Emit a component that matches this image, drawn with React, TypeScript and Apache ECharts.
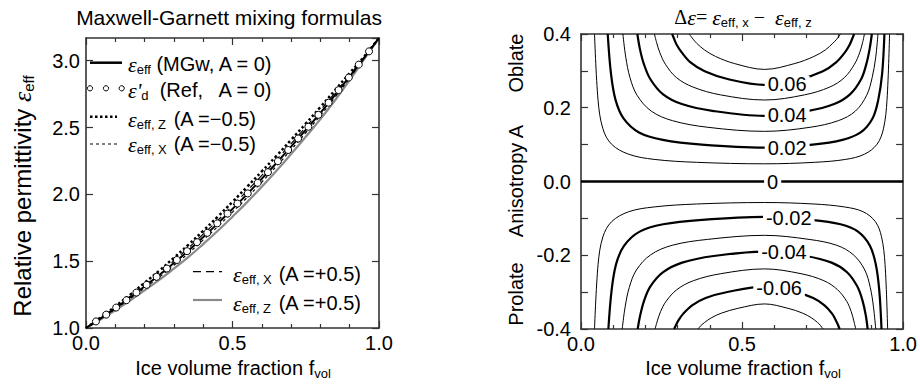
import React, { useEffect, useRef } from "react";
import * as echarts from "echarts";

// ---------- Left panel data (ice volume fraction vs relative permittivity) ----------
const F = [0, 0.05, 0.1, 0.15, 0.2, 0.25, 0.3, 0.35, 0.4, 0.45, 0.5, 0.55, 0.6, 0.65, 0.7, 0.75, 0.8, 0.85, 0.9, 0.95, 1.0];
const EPS_MGW = [1.0, 1.072, 1.148, 1.228, 1.311, 1.396, 1.486, 1.58, 1.68, 1.783, 1.891, 2.002, 2.117, 2.235, 2.357, 2.482, 2.61, 2.744, 2.882, 3.024, 3.17];
const EPS_Z_NEG = [1.0, 1.079, 1.162, 1.248, 1.338, 1.429, 1.525, 1.624, 1.727, 1.834, 1.944, 2.057, 2.172, 2.288, 2.408, 2.529, 2.653, 2.78, 2.907, 3.033, 3.17];
const EPS_X_NEG = [1.0, 1.069, 1.142, 1.219, 1.299, 1.381, 1.469, 1.56, 1.659, 1.76, 1.867, 1.977, 2.092, 2.211, 2.334, 2.461, 2.591, 2.728, 2.871, 3.02, 3.17];
const EPS_X_POS = [1.0, 1.075, 1.155, 1.237, 1.323, 1.411, 1.504, 1.6, 1.702, 1.806, 1.915, 2.027, 2.142, 2.259, 2.38, 2.503, 2.63, 2.761, 2.893, 3.028, 3.17];
const EPS_Z_POS = [1.0, 1.064, 1.132, 1.206, 1.282, 1.36, 1.444, 1.532, 1.628, 1.728, 1.833, 1.942, 2.057, 2.177, 2.302, 2.431, 2.563, 2.704, 2.855, 3.014, 3.17];
const REF_F = [0.034, 0.069, 0.103, 0.138, 0.172, 0.207, 0.241, 0.276, 0.31, 0.345, 0.379, 0.414, 0.448, 0.483, 0.517, 0.552, 0.586, 0.621, 0.655, 0.69, 0.724, 0.759, 0.793, 0.828, 0.862, 0.897, 0.931, 0.966];
const REF_EPS = [1.049, 1.1, 1.153, 1.208, 1.265, 1.323, 1.383, 1.445, 1.509, 1.575, 1.642, 1.712, 1.783, 1.856, 1.931, 2.007, 2.086, 2.166, 2.248, 2.332, 2.418, 2.506, 2.595, 2.686, 2.78, 2.874, 2.971, 3.07];

// ---------- Right panel data: contour lines [f_vol, A] ----------
const C_P01 = [[0.042, 0.4], [0.053, 0.22], [0.068, 0.143], [0.095, 0.101], [0.148, 0.074], [0.227, 0.06], [0.359, 0.052], [0.57, 0.048], [0.725, 0.052], [0.822, 0.06], [0.88, 0.074], [0.919, 0.101], [0.939, 0.143], [0.95, 0.22], [0.958, 0.4]];
const C_P02 = [[0.083, 0.4], [0.093, 0.293], [0.107, 0.222], [0.132, 0.171], [0.18, 0.133], [0.254, 0.113], [0.375, 0.1], [0.57, 0.092], [0.719, 0.1], [0.812, 0.113], [0.868, 0.133], [0.905, 0.171], [0.923, 0.222], [0.935, 0.293], [0.942, 0.4]];
const C_P03 = [[0.13, 0.4], [0.139, 0.337], [0.152, 0.282], [0.174, 0.234], [0.218, 0.191], [0.284, 0.165], [0.394, 0.147], [0.57, 0.136], [0.711, 0.147], [0.799, 0.165], [0.852, 0.191], [0.887, 0.234], [0.904, 0.282], [0.915, 0.337], [0.922, 0.4]];
const C_P04 = [[0.175, 0.4], [0.183, 0.359], [0.195, 0.319], [0.215, 0.278], [0.254, 0.237], [0.313, 0.21], [0.412, 0.191], [0.57, 0.178], [0.703, 0.191], [0.786, 0.21], [0.836, 0.237], [0.87, 0.278], [0.886, 0.319], [0.896, 0.359], [0.903, 0.4]];
const C_P05 = [[0.228, 0.4], [0.235, 0.376], [0.245, 0.349], [0.262, 0.318], [0.296, 0.282], [0.348, 0.256], [0.433, 0.235], [0.57, 0.221], [0.694, 0.235], [0.772, 0.256], [0.818, 0.282], [0.849, 0.318], [0.865, 0.349], [0.874, 0.376], [0.88, 0.4]];
const C_P06 = [[0.283, 0.4], [0.289, 0.387], [0.297, 0.371], [0.312, 0.351], [0.34, 0.323], [0.384, 0.299], [0.455, 0.278], [0.57, 0.262], [0.681, 0.278], [0.751, 0.299], [0.792, 0.323], [0.82, 0.351], [0.834, 0.371], [0.842, 0.387], [0.848, 0.4]];
const C_P07 = [[0.336, 0.4], [0.341, 0.394], [0.348, 0.386], [0.359, 0.375], [0.383, 0.357], [0.418, 0.339], [0.476, 0.32], [0.57, 0.304], [0.664, 0.32], [0.723, 0.339], [0.759, 0.357], [0.782, 0.375], [0.794, 0.386], [0.801, 0.394], [0.806, 0.4]];
const C_N01 = [[0.042, -0.4], [0.053, -0.225], [0.068, -0.15], [0.095, -0.109], [0.148, -0.082], [0.227, -0.069], [0.359, -0.061], [0.57, -0.057], [0.723, -0.061], [0.818, -0.069], [0.876, -0.082], [0.914, -0.109], [0.933, -0.15], [0.944, -0.225], [0.952, -0.4]];
const C_N02 = [[0.085, -0.4], [0.095, -0.295], [0.109, -0.224], [0.134, -0.174], [0.182, -0.136], [0.255, -0.116], [0.376, -0.104], [0.57, -0.096], [0.715, -0.104], [0.806, -0.116], [0.86, -0.136], [0.897, -0.174], [0.915, -0.224], [0.926, -0.295], [0.933, -0.4]];
const C_N03 = [[0.128, -0.4], [0.137, -0.34], [0.15, -0.287], [0.172, -0.24], [0.216, -0.199], [0.283, -0.173], [0.393, -0.157], [0.57, -0.146], [0.708, -0.157], [0.794, -0.173], [0.846, -0.199], [0.881, -0.24], [0.898, -0.287], [0.908, -0.34], [0.915, -0.4]];
const C_N04 = [[0.176, -0.4], [0.184, -0.362], [0.196, -0.323], [0.215, -0.285], [0.255, -0.246], [0.314, -0.22], [0.412, -0.202], [0.57, -0.19], [0.698, -0.202], [0.778, -0.22], [0.826, -0.246], [0.858, -0.285], [0.874, -0.323], [0.884, -0.362], [0.89, -0.4]];
const C_N05 = [[0.23, -0.4], [0.237, -0.378], [0.247, -0.353], [0.264, -0.325], [0.298, -0.293], [0.349, -0.269], [0.434, -0.25], [0.57, -0.237], [0.683, -0.25], [0.754, -0.269], [0.796, -0.293], [0.825, -0.325], [0.839, -0.353], [0.847, -0.378], [0.853, -0.4]];
const C_N06 = [[0.289, -0.4], [0.295, -0.389], [0.303, -0.376], [0.317, -0.359], [0.345, -0.336], [0.387, -0.316], [0.458, -0.299], [0.57, -0.285], [0.663, -0.299], [0.721, -0.316], [0.756, -0.336], [0.78, -0.359], [0.791, -0.376], [0.798, -0.389], [0.803, -0.4]];
const C_N07 = [[0.363, -0.4], [0.367, -0.396], [0.373, -0.39], [0.384, -0.382], [0.404, -0.37], [0.436, -0.357], [0.487, -0.344], [0.57, -0.332], [0.643, -0.344], [0.688, -0.357], [0.716, -0.37], [0.734, -0.382], [0.743, -0.39], [0.748, -0.396], [0.752, -0.4]];
const C_ZERO = [[0, 0], [1, 0]];

const LEVEL_LABELS = ["0.06", "0.04", "0.02", "0", "-0.02", "-0.04", "-0.06"];
const LABEL_F = [0.64, 0.64, 0.64, 0.595, 0.645, 0.63, 0.615];
const LABEL_A = [0.265, 0.181, 0.092, 0, -0.098, -0.192, -0.289];

const SANS = '"Liberation Sans", Arial, Helvetica, sans-serif';
const SERIF = '"Liberation Serif", "Times New Roman", serif';
const AX = "#333";

const fmt = (v: number) => (Math.abs(v) < 1e-9 ? 0 : v).toFixed(1);

function xAxisCfg(grid: number, pos: string, showLabel: boolean) {
  return {
    type: "value", gridIndex: grid, position: pos, min: 0, max: 1, interval: 0.5,
    axisLine: { show: true, onZero: false, lineStyle: { color: AX, width: 1.6 } },
    axisTick: { show: true, inside: true, length: 7, lineStyle: { color: AX, width: 1.2 } },
    minorTick: { show: true, splitNumber: 5, length: 4, lineStyle: { color: AX, width: 1.2 } },
    splitLine: { show: false }, minorSplitLine: { show: false },
    axisLabel: { show: showLabel, formatter: fmt, fontSize: 20, lineHeight: 18, fontFamily: SANS, color: "#000", margin: 6 },
  };
}

function yAxisCfg(grid: number, pos: string, showLabel: boolean, min: number, max: number, interval: number, minor: boolean, margin: number) {
  return {
    type: "value", gridIndex: grid, position: pos, min, max, interval,
    axisLine: { show: true, onZero: false, lineStyle: { color: AX, width: 1.6 } },
    axisTick: { show: true, inside: true, length: 7, lineStyle: { color: AX, width: 1.2 } },
    minorTick: { show: minor, splitNumber: 2, length: 7, lineStyle: { color: AX, width: 1.2 } },
    splitLine: { show: false }, minorSplitLine: { show: false },
    axisLabel: { show: showLabel, formatter: fmt, fontSize: 20, lineHeight: 16, fontFamily: SANS, color: "#000", margin, showMaxLabel: max === 0.4 },
  };
}

const subRich = {
  e: { fontFamily: SERIF, fontStyle: "italic", fontSize: 22, lineHeight: 24 },
  s: { fontFamily: SANS, fontSize: 13, lineHeight: 9, verticalAlign: "bottom" },
  w: { fontFamily: SANS, fontSize: 13, lineHeight: 9, verticalAlign: "bottom", width: 37 },
  t: { fontFamily: SANS, fontSize: 20, lineHeight: 24 },
};

function legendText(x: number, y: number, text: string) {
  return {
    type: "text", x, y, z: 100,
    style: { text, rich: subRich, fontFamily: SANS, fontSize: 20, lineHeight: 24, fill: "#000", align: "left", verticalAlign: "middle" },
  };
}

function legendLine(x1: number, x2: number, y: number, stroke: string, lineWidth: number, lineDash?: number[]) {
  return { type: "line", z: 100, shape: { x1, y1: y, x2, y2: y }, style: { stroke, lineWidth, lineDash } };
}

export default function App() {
  const ref = useRef<HTMLDivElement>(null);
  useEffect(() => {
    if (!ref.current) return;
    const chart = echarts.init(ref.current, null, { renderer: "svg" });

    const curve = (ys: number[]) => F.map((f, i) => [f, ys[i]]);
    const contourDefs: [number[][], number][] = [
      [C_P01, 1], [C_P02, 2.2], [C_P03, 1], [C_P04, 2.2], [C_P05, 1], [C_P06, 2.2], [C_P07, 1],
      [C_N01, 1], [C_N02, 2.2], [C_N03, 1], [C_N04, 2.2], [C_N05, 1], [C_N06, 2.2], [C_N07, 1],
      [C_ZERO, 2.4],
    ];

    const contourSeries = contourDefs.map(([pts, w]) => ({
      type: "line", xAxisIndex: 2, yAxisIndex: 2, data: pts, showSymbol: false, symbol: "none",
      smooth: 0.35, silent: true, z: 3,
      lineStyle: { color: "#000", width: w },
    }));

    const option: any = {
      animation: false,
      backgroundColor: "#fff",
      grid: [
        { left: 86, top: 38, width: 293, height: 290 },
        { left: 581, top: 34, width: 323, height: 295 },
      ],
      xAxis: [
        xAxisCfg(0, "bottom", true),
        xAxisCfg(0, "top", false),
        xAxisCfg(1, "bottom", true),
        xAxisCfg(1, "top", false),
      ],
      yAxis: [
        yAxisCfg(0, "left", true, 1, 3.17, 0.5, false, 6),
        yAxisCfg(0, "right", false, 1, 3.17, 0.5, false, 6),
        yAxisCfg(1, "left", true, -0.4, 0.4, 0.2, true, 10),
        yAxisCfg(1, "right", false, -0.4, 0.4, 0.2, true, 10),
      ],
      series: [
        { type: "line", xAxisIndex: 0, yAxisIndex: 0, data: curve(EPS_Z_POS), showSymbol: false, symbol: "none", smooth: true, silent: true, z: 2,
          lineStyle: { color: "#8a8a8a", width: 2.2 } },
        { type: "line", xAxisIndex: 0, yAxisIndex: 0, data: curve(EPS_X_NEG), showSymbol: false, symbol: "none", smooth: true, silent: true, z: 3,
          lineStyle: { color: "#000", width: 1.2, type: [3, 3] } },
        { type: "line", xAxisIndex: 0, yAxisIndex: 0, data: curve(EPS_X_POS), showSymbol: false, symbol: "none", smooth: true, silent: true, z: 3,
          lineStyle: { color: "#000", width: 1.2, type: [7, 5] } },
        { type: "line", xAxisIndex: 0, yAxisIndex: 0, data: curve(EPS_Z_NEG), showSymbol: false, symbol: "none", smooth: true, silent: true, z: 3,
          lineStyle: { color: "#000", width: 2.5, type: [2.5, 2.5] } },
        { type: "line", xAxisIndex: 0, yAxisIndex: 0, data: curve(EPS_MGW), showSymbol: false, symbol: "none", smooth: true, silent: true, z: 4,
          lineStyle: { color: "#000", width: 2 } },
        { type: "scatter", xAxisIndex: 0, yAxisIndex: 0, data: REF_F.map((f, i) => [f, REF_EPS[i]]), symbol: "circle", symbolSize: 7, silent: true, z: 5,
          itemStyle: { color: "#fff", borderColor: "#000", borderWidth: 1, opacity: 1 } },
        ...contourSeries,
        { type: "scatter", xAxisIndex: 2, yAxisIndex: 2, data: LABEL_F.map((f, i) => [f, LABEL_A[i]]), symbol: "circle", symbolSize: 1, silent: true, z: 10,
          itemStyle: { color: "rgba(0,0,0,0)", opacity: 1 },
          label: { show: true, position: "inside", formatter: (p: any) => LEVEL_LABELS[p.dataIndex], fontSize: 20, fontFamily: SANS, color: "#000",
            backgroundColor: "#fff", padding: [0, 3], lineHeight: 16, opacity: 1 } },
      ],
      graphic: [
        // titles
        { type: "text", x: 229, y: 17, style: { text: "Maxwell-Garnett mixing formulas", fontFamily: SANS, fontSize: 21, fill: "#000", align: "center", verticalAlign: "middle" } },
        { type: "text", x: 743, y: 17, style: {
          text: "{d|Δ}{e|ε}{m|= }{e|ε}{s|eff, x}{m| −  }{e|ε}{s|eff, z}",
          fill: "#000", align: "center", verticalAlign: "middle", fontFamily: SERIF, fontSize: 20, lineHeight: 24,
          rich: {
            d: { fontFamily: SERIF, fontSize: 20, lineHeight: 24 },
            e: { fontFamily: SERIF, fontStyle: "italic", fontSize: 22, lineHeight: 24 },
            m: { fontFamily: SERIF, fontSize: 20, lineHeight: 24 },
            s: { fontFamily: SANS, fontSize: 13, lineHeight: 8, verticalAlign: "bottom" },
          } } },
        // axis names
        { type: "text", x: 233, y: 368, style: { text: "Ice volume fraction f{s|vol}", fontFamily: SANS, fontSize: 20, lineHeight: 24, fill: "#000", align: "center", verticalAlign: "middle",
          rich: { s: { fontFamily: SANS, fontSize: 13, lineHeight: 8, verticalAlign: "bottom" } } } },
        { type: "text", x: 743, y: 368, style: { text: "Ice volume fraction f{s|vol}", fontFamily: SANS, fontSize: 20, lineHeight: 24, fill: "#000", align: "center", verticalAlign: "middle",
          rich: { s: { fontFamily: SANS, fontSize: 13, lineHeight: 8, verticalAlign: "bottom" } } } },
        { type: "text", x: 22, y: 196, rotation: Math.PI / 2, style: { text: "Relative permittivity {e|ε}{s|eff}", fontFamily: SANS, fontSize: 24, lineHeight: 28, fill: "#000", align: "center", verticalAlign: "middle",
          rich: { e: { fontFamily: SERIF, fontStyle: "italic", fontSize: 26, lineHeight: 28 }, s: { fontFamily: SANS, fontSize: 15, lineHeight: 9, verticalAlign: "bottom" } } } },
        { type: "text", x: 516, y: 63, rotation: Math.PI / 2, style: { text: "Oblate", fontFamily: SANS, fontSize: 20, fill: "#000", align: "center", verticalAlign: "middle" } },
        { type: "text", x: 516, y: 181, rotation: Math.PI / 2, style: { text: "Anisotropy A", fontFamily: SANS, fontSize: 20, fill: "#000", align: "center", verticalAlign: "middle" } },
        { type: "text", x: 516, y: 294, rotation: Math.PI / 2, style: { text: "Prolate", fontFamily: SANS, fontSize: 20, fill: "#000", align: "center", verticalAlign: "middle" } },
        // legend
        legendLine(90, 122, 62.7, "#000", 2.5),
        legendText(128, 64, "{e|ε}{s|eff}{t| (MGw, A = 0)}"),
        { type: "circle", z: 100, shape: { cx: 90, cy: 88.3, r: 2.6 }, style: { fill: "#fff", stroke: "#000", lineWidth: 1 } },
        { type: "circle", z: 100, shape: { cx: 106, cy: 88.3, r: 2.6 }, style: { fill: "#fff", stroke: "#000", lineWidth: 1 } },
        { type: "circle", z: 100, shape: { cx: 121.7, cy: 88.3, r: 2.6 }, style: { fill: "#fff", stroke: "#000", lineWidth: 1 } },
        legendText(128, 90, "{e|ε'}{s|d}{t|  (Ref,   A = 0)}"),
        legendLine(90, 117, 116.7, "#000", 2.5, [2.5, 2.5]),
        legendText(128, 119, "{e|ε}{w|eff, Z}{t|(A =−0.5)}"),
        legendLine(90, 117, 144, "#000", 1.2, [3, 3]),
        legendText(128, 144, "{e|ε}{w|eff, X}{t|(A =−0.5)}"),
        legendLine(193, 222, 271.7, "#000", 1.2, [8, 5]),
        legendText(233, 274, "{e|ε}{w|eff, X}{t|(A =+0.5)}"),
        legendLine(193, 222, 300, "#8a8a8a", 2.2),
        legendText(233, 303, "{e|ε}{w|eff, Z}{t|(A =+0.5)}"),
      ],
    };
    chart.setOption(option);
    return () => chart.dispose();
  }, []);
  return <div ref={ref} style={{ position: "fixed", left: 0, top: 0, width: 920, height: 384, background: "#fff" }} />;
}
